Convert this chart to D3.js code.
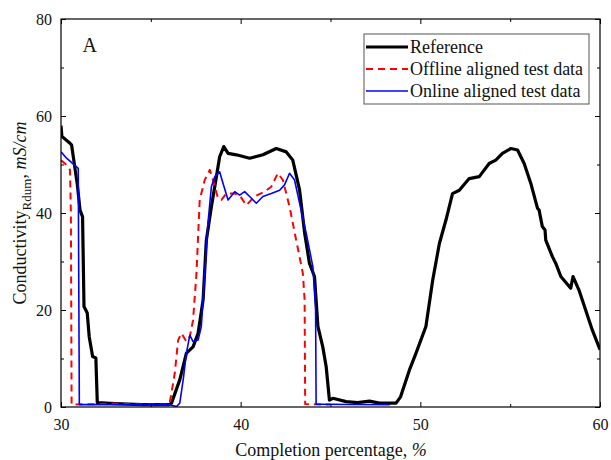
<!DOCTYPE html>
<html>
<head>
<meta charset="utf-8">
<script src="https://cdn.jsdelivr.net/npm/d3@7"></script>
<style>
  body { margin: 0; background: #fff; }
  text { font-family: 'Liberation Serif', 'Times New Roman', serif; }
</style>
</head>
<body>
<div id="chart"></div>
<script>
// Reference curve [completion %, conductivity]
const referenceData = [
  [30, 58], [30.05, 55.8], [30.5, 54.4], [30.59, 54], [30.91, 45.8], [31.06, 40.6], [31.2, 39.2],
  [31.28, 20.7], [31.46, 19.4], [31.57, 14.5], [31.76, 10.4], [31.94, 10.1], [32.02, 0.9],
  [33, 0.7], [34.5, 0.5], [36, 0.5], [36.15, 0.8], [36.61, 5.6], [36.98, 11.1], [37.35, 12.4],
  [37.63, 15.2], [37.91, 22.1], [38.09, 34.4], [38.37, 41.3], [38.65, 47.5], [38.83, 51.6],
  [39.06, 53.7], [39.3, 52.3], [39.76, 52.0], [40.5, 51.3], [41.24, 52.0], [41.98, 53.3],
  [42.54, 52.6], [42.9, 50.9], [43.28, 44.7], [43.56, 35.9], [43.83, 29.6], [44.11, 26.9],
  [44.3, 16.6], [44.57, 12.4], [44.76, 8.3], [44.94, 1.4], [45.13, 1.8], [45.87, 1.1],
  [46.5, 0.9], [47.17, 1.2], [47.72, 0.8], [48.65, 0.8], [48.9, 2.1], [49.39, 7.6],
  [49.76, 11.1], [50.31, 16.6], [50.69, 26.2], [51.06, 33.7], [51.43, 38.6], [51.79, 44.0],
  [52.17, 44.7], [52.72, 47.1], [53.28, 47.5], [53.83, 50.2], [54.2, 50.9], [54.57, 52.3],
  [55.04, 53.3], [55.41, 53.0], [55.78, 50.2], [56.15, 46.1], [56.52, 41.0], [56.61, 40.6],
  [56.79, 37.2], [56.94, 36.5], [56.98, 34.4], [57.35, 31.0], [57.54, 29.6], [57.82, 26.9],
  [58.37, 24.5], [58.5, 26.9], [58.83, 24.1], [59.2, 20.0], [59.57, 15.9], [60, 11.8]
];

// Offline aligned test data
const offlineData = [
  [30, 50.9], [30.31, 49.9], [30.5, 48.9], [30.55, 40], [30.59, 0.5], [32, 0.6], [33, 0.7],
  [34.5, 0.5], [36, 0.5], [36.05, 0.8], [36.33, 6.9], [36.52, 13.8], [36.7, 15.2],
  [36.98, 13.5], [37.17, 14.5], [37.35, 17.9], [37.54, 27.6], [37.72, 42.7], [38.0, 46.8],
  [38.28, 48.9], [38.46, 46.8], [38.74, 43.0], [38.93, 42.7], [39.2, 44.0], [39.67, 44.0],
  [39.94, 43.7], [40.31, 41.6], [40.78, 43.4], [41.33, 44.4], [41.7, 45.4], [42.07, 48.2],
  [42.35, 46.8], [42.72, 41.3], [43.09, 34.4], [43.46, 27.6], [43.56, 22.1], [43.59, 0.6],
  [45, 0.5]
];

// Online aligned test data
const onlineData = [
  [30, 52.6], [30.31, 51.3], [30.96, 49.2], [31.02, 0.5], [33, 0.5], [36, 0.5], [36.43, 0.1],
  [36.61, 0.8], [36.8, 5.6], [36.98, 11.1], [37.17, 14.8], [37.35, 13.5], [37.63, 13.8],
  [37.81, 16.6], [38.0, 27.6], [38.18, 37.9], [38.37, 45.4], [38.56, 47.5], [38.83, 48.5],
  [39.02, 46.1], [39.3, 42.7], [39.67, 44.4], [39.94, 43.7], [40.22, 44.4], [40.5, 43.4],
  [40.87, 42.0], [41.24, 43.4], [41.7, 44.0], [42.17, 44.7], [42.44, 45.8], [42.72, 48.2],
  [43.0, 46.8], [43.28, 42.0], [43.65, 35.8], [44.02, 28.9], [44.17, 20.0], [44.2, 0.6],
  [46, 0.5], [48.3, 0.5]
];

const xTicks = [30, 40, 50, 60];
const xMinorTicks = [35, 45, 55];
const yTicks = [0, 20, 40, 60, 80];
const yMinorTicks = [10, 30, 50, 70];

const legendItems = [
  { name: 'Reference', color: '#000', width: 3.2, dash: null },
  { name: 'Offline aligned test data', color: '#ff0000', width: 2, dash: '7,5' },
  { name: 'Online aligned test data', color: '#0000ff', width: 1.6, dash: null },
];

const width = 611;
const height = 460;
const margin = { t: 19, r: 11, b: 53, l: 61 };
const w = width - margin.l - margin.r;
const h = height - margin.t - margin.b;

const svg = d3
  .select('#chart')
  .append('svg')
  .attr('width', width)
  .attr('height', height);

const g = svg.append('g').attr('transform', `translate(${margin.l}, ${margin.t})`);

const x = d3.scaleLinear().domain([30, 60]).range([0, w]);
const y = d3.scaleLinear().domain([0, 80]).range([h, 0]);

g.append('defs')
  .append('clipPath')
  .attr('id', 'clip')
  .append('rect')
  .attr('width', w)
  .attr('height', h);

const line = d3
  .line()
  .x((d) => x(d[0]))
  .y((d) => y(d[1]));

const plot = g.append('g').attr('clip-path', 'url(#clip)');

// Draw order: reference under the test data
[
  [referenceData, legendItems[0]],
  [offlineData, legendItems[1]],
  [onlineData, legendItems[2]],
].forEach(([data, s]) => {
  plot
    .append('path')
    .datum(data)
    .attr('d', line)
    .attr('fill', 'none')
    .attr('stroke', s.color)
    .attr('stroke-width', s.width)
    .attr('stroke-dasharray', s.dash)
    .attr('stroke-linejoin', 'round');
});

// axes, ticks pointing inward on all four sides
const tickLabel = (sel) => sel.selectAll('text').attr('fill', '#111').style('font-size', '16px');
const noDomain = (sel) => sel.select('.domain').remove();

g.append('g')
  .attr('transform', `translate(0, ${h})`)
  .call(d3.axisBottom(x).tickValues(xTicks).tickSize(-5).tickPadding(12).tickFormat(d3.format('d')))
  .call(tickLabel)
  .call(noDomain);
g.append('g')
  .attr('transform', `translate(0, ${h})`)
  .call(d3.axisBottom(x).tickValues(xMinorTicks).tickSize(-3).tickFormat(''))
  .call(noDomain);
g.append('g')
  .call(d3.axisTop(x).tickValues(xTicks).tickSize(-5).tickFormat(''))
  .call(noDomain);
g.append('g')
  .call(d3.axisTop(x).tickValues(xMinorTicks).tickSize(-3).tickFormat(''))
  .call(noDomain);

g.append('g')
  .call(d3.axisLeft(y).tickValues(yTicks).tickSize(-5).tickPadding(9).tickFormat(d3.format('d')))
  .call(tickLabel)
  .call(noDomain);
g.append('g')
  .call(d3.axisLeft(y).tickValues(yMinorTicks).tickSize(-3).tickFormat(''))
  .call(noDomain);
g.append('g')
  .attr('transform', `translate(${w}, 0)`)
  .call(d3.axisRight(y).tickValues(yTicks).tickSize(-5).tickFormat(''))
  .call(noDomain);
g.append('g')
  .attr('transform', `translate(${w}, 0)`)
  .call(d3.axisRight(y).tickValues(yMinorTicks).tickSize(-3).tickFormat(''))
  .call(noDomain);

g.selectAll('.tick line').attr('stroke', '#000');

// frame
g.append('rect')
  .attr('width', w)
  .attr('height', h)
  .attr('fill', 'none')
  .attr('stroke', '#000')
  .attr('stroke-width', 1.2);

// panel letter
g.append('text')
  .attr('x', x(31.2))
  .attr('y', 52 - margin.t)
  .style('font-size', '20px')
  .attr('fill', '#111')
  .text('A');

// legend
const legend = g.append('g').attr('transform', `translate(${364 - margin.l}, ${34 - margin.t})`);
legend
  .append('rect')
  .attr('width', 225)
  .attr('height', 70)
  .attr('fill', '#fff')
  .attr('stroke', '#555')
  .attr('stroke-width', 1);

legendItems.forEach((s, i) => {
  const row = legend.append('g').attr('transform', `translate(0, ${13 + i * 22})`);
  row
    .append('line')
    .attr('x1', 2)
    .attr('x2', 44)
    .attr('stroke', s.color)
    .attr('stroke-width', s.width)
    .attr('stroke-dasharray', s.dash);
  row
    .append('text')
    .attr('x', 46)
    .attr('y', 6)
    .style('font-size', '18px')
    .attr('fill', '#111')
    .text(s.name);
});

// axis titles
svg
  .append('text')
  .attr('x', 331)
  .attr('y', 456)
  .attr('text-anchor', 'middle')
  .style('font-size', '18px')
  .attr('fill', '#111')
  .call((t) => {
    t.append('tspan').text('Completion percentage, ');
    t.append('tspan').style('font-style', 'italic').text('%');
  });

const yTitle = svg
  .append('text')
  .attr('transform', 'translate(26, 213) rotate(-90)')
  .attr('text-anchor', 'middle')
  .style('font-size', '18px')
  .attr('fill', '#111');
yTitle.append('tspan').text('Conductivity');
yTitle.append('tspan').attr('dy', 5).style('font-size', '13px').text('Rdum');
yTitle.append('tspan').attr('dy', -5).text(', ');
yTitle.append('tspan').style('font-style', 'italic').text('mS/cm');
</script>
</body>
</html>
